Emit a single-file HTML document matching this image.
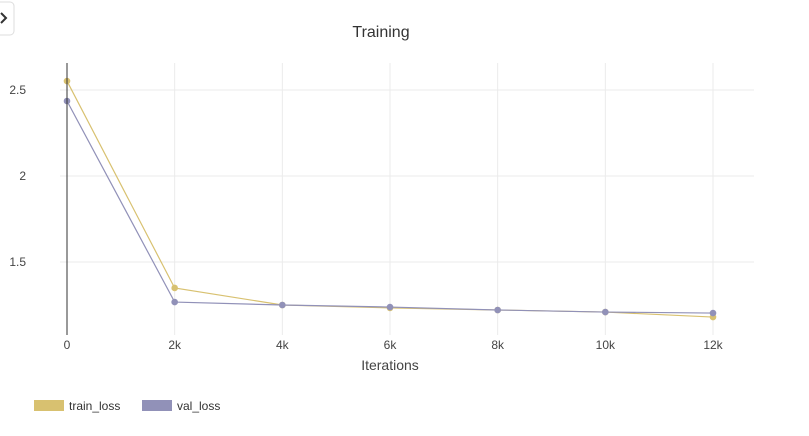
<!DOCTYPE html>
<html><head><meta charset="utf-8"><style>
body{margin:0;background:#fff;font-family:"Liberation Sans",sans-serif;}
svg text{font-family:"Liberation Sans",sans-serif;}
</style></head><body>
<svg id="chart" width="809" height="431">
<rect x="-6" y="2" width="20" height="33" rx="4" fill="#fff" stroke="#ddd"/>
<path d="M1 13 L6 18 L1 23" fill="none" stroke="#333" stroke-width="2"/>
<text x="381" y="37" text-anchor="middle" font-size="16" fill="#333">Training</text>
<g id="grid"></g><g id="marks"></g><g id="axes"></g>
<text x="390" y="370" text-anchor="middle" font-size="14" fill="#444">Iterations</text>
<rect x="34" y="400" width="30" height="11" fill="#d8c170"/>
<text x="69" y="410" font-size="12" fill="#333">train_loss</text>
<rect x="142" y="400" width="30" height="11" fill="#9191b8"/>
<text x="177" y="410" font-size="12" fill="#333">val_loss</text>
</svg>
<script>
const iterations=[0,2000,4000,6000,8000,10000,12000];
const trainLoss=[2.552,1.349,1.25,1.233,1.221,1.209,1.180];
const valLoss=[2.436,1.267,1.25,1.238,1.221,1.209,1.203];
const xTicks=[0,2000,4000,6000,8000,10000,12000];
const xTickLabels=["0","2k","4k","6k","8k","10k","12k"];
const yTicks=[1.5,2,2.5];
const yTickLabels=["1.5","2","2.5"];
const NS="http://www.w3.org/2000/svg";
const X=v=>67+v*(646/12000);
const Y=v=>90-(v-2.5)*172;
function mk(t,a,p){const e=document.createElementNS(NS,t);for(const k in a)e.setAttribute(k,a[k]);p.appendChild(e);return e;}
const grid=document.getElementById('grid'),marks=document.getElementById('marks'),axes=document.getElementById('axes');
xTicks.forEach((v,i)=>{
  if(v>0){const l=mk('line',{x1:X(v),x2:X(v),y1:63,y2:335,stroke:'#ebebeb'},grid);
  
  }
  const t=mk('text',{x:X(v),y:349,'text-anchor':'middle','font-size':12,fill:'#444'},axes);t.textContent=xTickLabels[i];
  
  
});
yTicks.forEach((v,i)=>{
  const l=mk('line',{x1:60,x2:754,y1:Y(v),y2:Y(v),stroke:'#ebebeb'},grid);
  
  
  const t=mk('text',{x:26,y:Y(v)+4,'text-anchor':'end','font-size':12,fill:'#444'},axes);t.textContent=yTickLabels[i];
  
  
});
const z=mk('line',{x1:X(0),x2:X(0),y1:63,y2:335,stroke:'#333'},axes);


[[trainLoss,'#d8c170','train'],[valLoss,'#9191b8','val']].forEach(([d,c,n])=>{
  const p=mk('polyline',{points:d.map((v,i)=>X(iterations[i])+','+Y(v)).join(' '),fill:'none',stroke:c,'stroke-width':1.2},marks);
  
  
  d.forEach((v,i)=>{const c2=mk('circle',{cx:X(iterations[i]),cy:Y(v),r:3.3,fill:c},marks);
  
  });
});
</script>
</body></html>
